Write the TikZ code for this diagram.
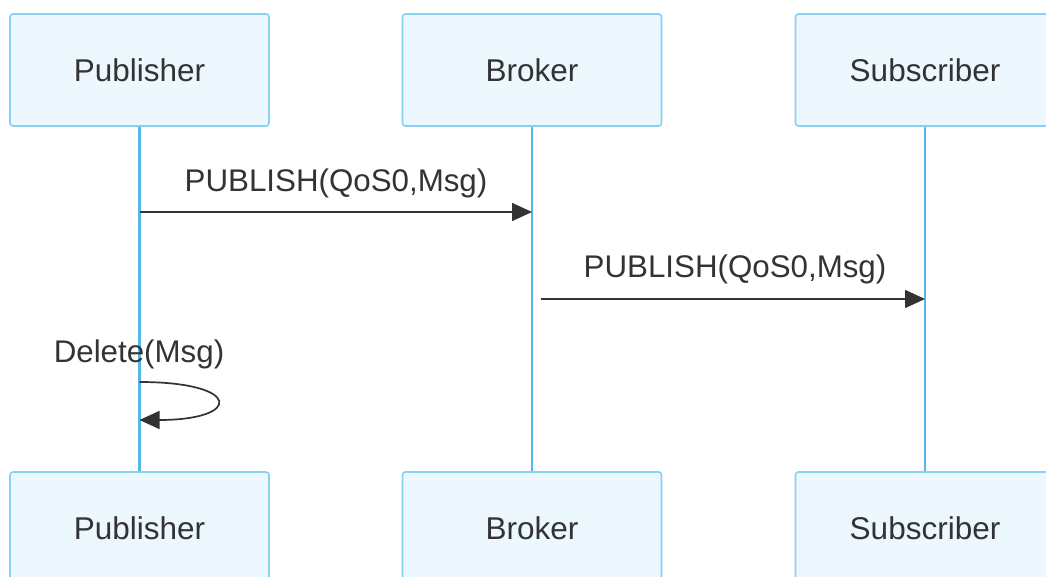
\documentclass[tikz,border=0pt]{standalone}
\usepackage{fontspec}
\setmainfont{Liberation Sans}
\usetikzlibrary{arrows.meta}
\definecolor{boxfill}{HTML}{EDF8FE}
\definecolor{boxline}{HTML}{86D1F4}
\definecolor{lifeline}{HTML}{55B9E8}
\definecolor{ink}{HTML}{333333}
\tikzset{
  actor/.style={draw=boxline, fill=boxfill, line width=1.6pt, rounded corners=3pt,
    minimum width=259pt, minimum height=112pt, inner sep=0pt,
    font=\fontsize{31.5}{37}\selectfont, text=ink},
  life/.style={draw=lifeline, line width=2.2pt},
  msg/.style={draw=ink, line width=1.7pt, -{Triangle[length=20pt,width=18pt]}},
  msglabel/.style={font=\fontsize{31.3}{37}\selectfont, text=ink, inner sep=0pt}
}
\begin{document}
\begin{tikzpicture}[x=1pt,y=1pt]
  \useasboundingbox (0,0) rectangle (1046,576);
  \clip (0,0) rectangle (1046,576);
  \fill[white] (0,0) rectangle (1046,576);
  % actor heads (top) and feet (bottom)
  \node[actor] (pubT) at (139.5,506) {Publisher};
  \node[actor] (brkT) at (532,506) {Broker};
  \node[actor] (subT) at (925,506) {Subscriber};
  \node[actor] (pubB) at (139.5,48) {Publisher};
  \node[actor] (brkB) at (532,48) {Broker};
  \node[actor] (subB) at (925,48) {Subscriber};
  % lifelines
  \draw[life] (pubT.south) -- (pubB.north);
  \draw[life] (brkT.south) -- (brkB.north);
  \draw[life] (subT.south) -- (subB.north);
  % message anchor points on the lifelines
  \coordinate (m1s) at (pubT.south |- 0,364);
  \coordinate (m1e) at (brkT.south |- 0,364);
  \coordinate (m2s) at ([xshift=9pt]brkT.south |- 0,277);
  \coordinate (m2e) at (subT.south |- 0,277);
  \coordinate (d1) at (pubT.south |- 0,194);
  \coordinate (d2) at (pubT.south |- 0,156);
  % messages
  \draw[msg] (m1s) -- (m1e);
  \node[msglabel] (l1) at (336,393) {PUBLISH(QoS0,Msg)};
  \draw[msg] (m2s) -- (m2e);
  \node[msglabel] (l2) at (735,307) {PUBLISH(QoS0,Msg)};
  % self message
  \draw[msg] (d1) .. controls ([xshift=103pt]d1) and ([xshift=103pt]d2) .. (d2);
  \node[msglabel] (l3) at (139,222) {Delete(Msg)};
\end{tikzpicture}
\end{document}
